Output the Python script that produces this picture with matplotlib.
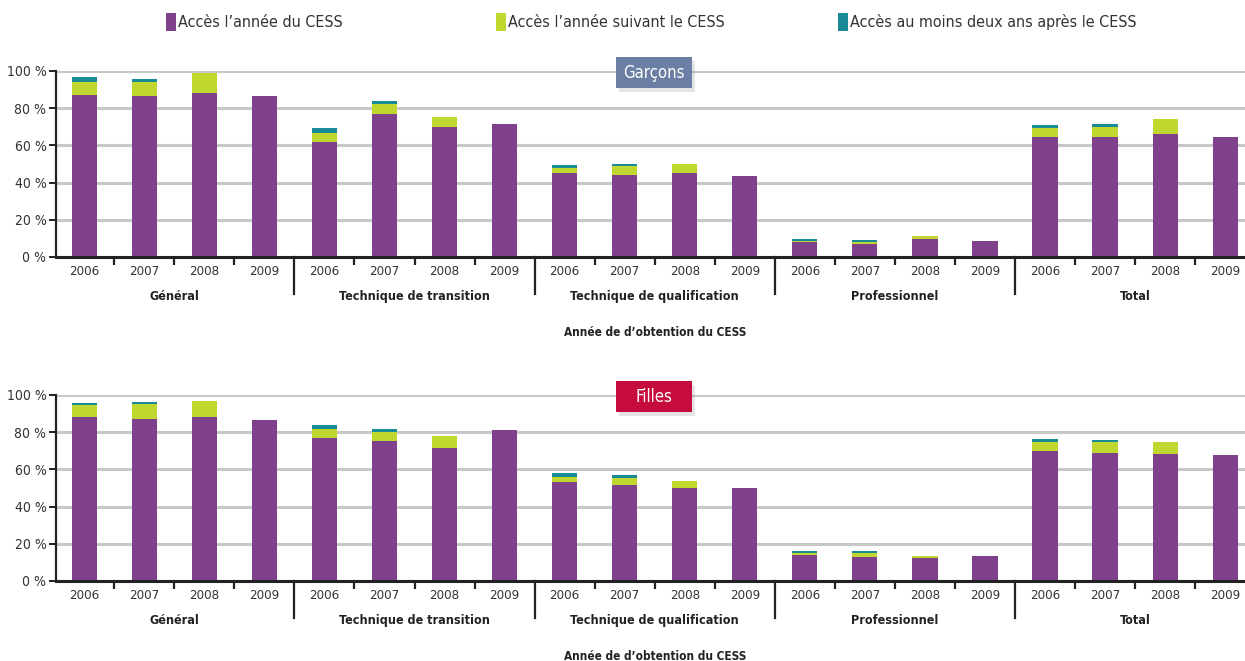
import numpy as np
import matplotlib.pyplot as plt
from matplotlib.patches import Patch, FancyBboxPatch
from matplotlib import patheffects as pe
from matplotlib.transforms import blended_transform_factory

plt.rcParams['font.family'] = ['DejaVu Sans']
plt.rcParams['font.stretch'] = 'condensed'

# categories
groups = ['Général', 'Technique de transition', 'Technique de qualification',
          'Professionnel', 'Total']
years = ['2006', '2007', '2008', '2009']
series_names = ["Accès l’année du CESS", "Accès l’année suivant le CESS",
                "Accès au moins deux ans après le CESS"]

# Garçons (values in %), 5 groups x 4 years, flattened
garcons_annee = [87.1, 86.5, 88.2, 86.5,
                 61.8, 76.9, 69.8, 71.5,
                 45.1, 44.0, 45.1, 43.5,
                 7.9, 6.8, 9.6, 8.5,
                 64.5, 64.5, 66.1, 64.5]
garcons_suivant = [7.0, 7.6, 10.7, 0,
                   4.8, 5.3, 5.4, 0,
                   2.7, 4.9, 4.8, 0,
                   0.6, 1.1, 1.6, 0,
                   4.8, 5.3, 8.1, 0]
garcons_deux = [2.7, 1.6, 0, 0,
                2.7, 1.6, 0, 0,
                1.6, 1.0, 0, 0,
                1.1, 1.1, 0, 0,
                1.6, 1.7, 0, 0]

# Filles
filles_annee = [88.2, 87.2, 88.2, 86.7,
                77.0, 75.4, 71.6, 81.3,
                53.3, 51.7, 50.1, 50.1,
                14.0, 12.9, 12.3, 13.5,
                70.0, 68.9, 68.4, 67.8]
filles_suivant = [6.5, 8.1, 8.8, 0,
                  4.9, 4.9, 6.5, 0,
                  2.7, 3.7, 3.8, 0,
                  1.1, 2.2, 1.2, 0,
                  4.9, 6.0, 6.5, 0]
filles_deux = [1.1, 1.1, 0, 0,
               2.1, 1.6, 0, 0,
               2.2, 1.6, 0, 0,
               1.0, 1.0, 0, 0,
               1.6, 1.0, 0, 0]

colors = ['#80418c', '#bfd72f', '#1a8b96']
W, H = 1245, 661


def panel(y0, title, box_color, a, b, c):
    # y0: pixel row of the 0 % line
    ax = fig.add_axes([56 / W, (H - y0) / H, (W - 56) / W, 186 / H])
    x = np.arange(len(a))
    a = np.array(a); b = np.array(b); c = np.array(c)
    ax.bar(x, a, 0.42, color=colors[0], zorder=3)
    ax.bar(x, b, 0.42, bottom=a, color=colors[1], zorder=3)
    ax.bar(x, c, 0.42, bottom=a + b, color=colors[2], zorder=3)
    ax.set_xlim(-0.47, 19.33)
    ax.set_ylim(0, 100)
    ax.set_yticks(range(0, 101, 20))
    ax.set_yticklabels([f'{v} %' for v in range(0, 101, 20)], fontsize=10, color='#333333')
    ax.yaxis.grid(True, color='#c8c8c8', lw=2.2, zorder=0)
    for s in ['top', 'right']:
        ax.spines[s].set_visible(False)
    ax.spines['left'].set_color('#222222')
    ax.spines['left'].set_linewidth(1.6)
    ax.spines['bottom'].set_color('#222222')
    ax.spines['bottom'].set_linewidth(2.2)
    ax.spines['bottom'].set_zorder(4)
    ax.tick_params(axis='y', length=5, width=1.4, color='#222222', pad=2)

    ax.set_xticks(x)
    ax.set_xticklabels(years * len(groups), fontsize=9.5, color='#333333')
    ax.tick_params(axis='x', length=0, pad=6)
    bounds = [k + 0.5 for k in range(len(a) - 1) if (k + 1) % 4 != 0]
    ax.set_xticks(bounds, minor=True)
    ax.tick_params(axis='x', which='minor', length=6, width=1.6, color='#222222')

    tr = blended_transform_factory(ax.transData, ax.transAxes)
    for g in range(1, len(groups)):
        ax.plot([4 * g - 0.5] * 2, [0, -0.2], transform=tr, color='#222222',
                lw=1.6, clip_on=False)
    for g, name in enumerate(groups):
        ax.text(4 * g + 1.5, -0.215, name, transform=tr, ha='center', va='center',
                fontsize=9, fontweight='bold', color='#222222')
    ax.text(9.5, -0.405, 'Année de d’obtention du CESS', transform=tr, ha='center',
            va='center', fontsize=8.5, fontweight='bold', color='#222222')

    # title box
    bx = FancyBboxPatch((616 / W, (H - y0 + 169) / H), 76 / W, 31 / H,
                        boxstyle='square,pad=0', transform=fig.transFigure,
                        facecolor=box_color, edgecolor='none', zorder=10,
                        path_effects=[pe.SimplePatchShadow(offset=(2, -3), alpha=0.15,
                                                           shadow_rgbFace='#555555'),
                                      pe.Normal()])
    fig.add_artist(bx)
    fig.text(654 / W, (H - y0 + 184.5) / H, title, ha='center', va='center',
             fontsize=12, color='white', zorder=11)
    return ax


fig = plt.figure(figsize=(W / 100, H / 100), dpi=100)
panel(257, 'Garçons', '#6a7fa3', garcons_annee, garcons_suivant, garcons_deux)
panel(581, 'Filles', '#c60c3c', filles_annee, filles_suivant, filles_deux)

# one legend entry per column, placed where the reference has them
legend_x = [166, 496, 838]
for col, name, lx in zip(colors, series_names, legend_x):
    fig.legend([Patch(facecolor=col, edgecolor='none')], [name], loc='center left',
               bbox_to_anchor=(lx / W, 1 - 22 / H), frameon=False, fontsize=11.5,
               handlelength=0.6, handleheight=1.3, handletextpad=0.15,
               borderaxespad=0, borderpad=0, labelcolor='#333333')

fig.savefig('out.png', dpi=100)
